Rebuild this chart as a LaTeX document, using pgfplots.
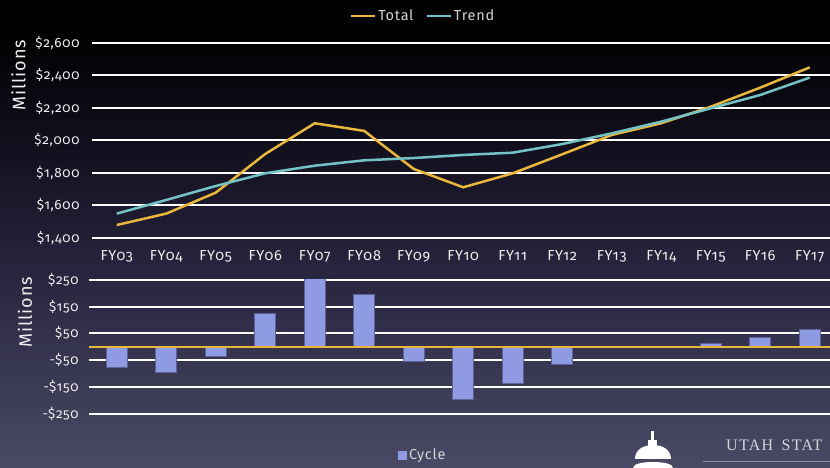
\documentclass[border=0pt]{standalone}
\usepackage{pgfplots}
\pgfplotsset{compat=1.18}
\usepackage{fontspec}
\setmainfont{Fira Sans}[Numbers=OldStyle]
\newfontfamily\cf{Fira Sans}[Numbers=OldStyle, LetterSpace=5]
\newfontfamily\logofont{Liberation Serif}[LetterSpace=8, WordSpace=1.6]

\definecolor{totalcol}{HTML}{E8B73C}
\definecolor{trendcol}{HTML}{75C2C6}
\definecolor{barfill}{HTML}{8E9BE3}
\definecolor{baredge}{HTML}{5B6199}
\definecolor{labelcol}{HTML}{EEEEEE}
\definecolor{legcol}{HTML}{D4D4D8}
\definecolor{bgbot}{HTML}{4A4A66}
\definecolor{bglow}{HTML}{26233C}
\definecolor{bgmid}{HTML}{110F1C}
\definecolor{logoline}{HTML}{8E8EA5}

\pgfdeclareverticalshading{bgshade}{100bp}{color(0bp)=(bgbot); color(25bp)=(bgbot); color(47bp)=(bglow); color(60bp)=(bgmid); color(72bp)=(black); color(100bp)=(black)}

\begin{document}
\begin{tikzpicture}[x=1pt,y=1pt]
\shade[shading=bgshade] (0,0) rectangle (830,468);

% top: total vs trend
\begin{axis}[
    at={(92pt,230pt)}, anchor=south west,
    scale only axis, width=738pt, height=195pt,
    xmin=-0.5, xmax=14.41, ymin=1400, ymax=2600,
    axis line style={draw=none}, major tick length=0pt,
    ytick={1400,1600,1800,2000,2200,2400,2600},
    yticklabels={{\$1,400},{\$1,600},{\$1,800},{\$2,000},{\$2,200},{\$2,400},{\$2,600}},
    xtick={0,...,14},
    xticklabels={FY03,FY04,FY05,FY06,FY07,FY08,FY09,FY10,FY11,FY12,FY13,FY14,FY15,FY16,FY17},
    ymajorgrids, grid style={white, line width=2pt},
    yticklabel style={text=labelcol, font=\cf\fontsize{13.5}{15}\selectfont, xshift=-9pt},
    xticklabel style={text=labelcol, font=\cf\fontsize{14.5}{16}\selectfont, anchor=base, yshift=-23pt},
    legend style={at={(0.4485,1.138)}, anchor=center, draw=none, fill=none,
        legend columns=2, text=legcol, font=\cf\fontsize{14.5}{16}\selectfont,
        /tikz/every even column/.append style={column sep=10pt}},
    legend image code/.code={\draw[#1] (0pt,0pt) -- (24pt,0pt);},
]
\addplot[totalcol, line width=2.5pt] coordinates {
    (0,1480) (1,1550) (2,1679) (3,1917) (4,2106) (5,2059) (6,1825) (7,1712)
    (8,1798) (9,1915) (10,2034) (11,2106) (12,2208) (13,2325) (14,2450)};
\addplot[trendcol, line width=2.5pt] coordinates {
    (0,1550) (1,1634) (2,1720) (3,1798) (4,1845) (5,1878) (6,1892) (7,1911)
    (8,1925) (9,1978) (10,2044) (11,2116) (12,2198) (13,2280) (14,2387)};
\legend{Total, Trend}
\end{axis}

% bottom: cycle
\begin{axis}[
    at={(89pt,54.3pt)}, anchor=south west,
    scale only axis, width=741pt, height=133.7pt,
    xmin=-0.56, xmax=14.41, ymin=-250, ymax=250,
    axis line style={draw=none}, major tick length=0pt,
    xtick=\empty,
    ytick={-250,-150,-50,50,150,250},
    yticklabels={{-\$250},{-\$150},{-\$50},{\$50},{\$150},{\$250}},
    ymajorgrids, grid style={white, line width=2pt},
    yticklabel style={text=labelcol, font=\cf\fontsize{13.5}{15}\selectfont, xshift=-7pt},
    legend style={at={(0.4507,-0.309)}, anchor=center, draw=none, fill=none,
        text=legcol, font=\cf\fontsize{14.5}{16}\selectfont},
]
\addplot[ybar, bar width=21pt, fill=barfill, draw=baredge, line width=0.6pt,
    legend image code/.code={\fill[barfill] (0pt,-4pt) rectangle (8pt,4pt);}]
    coordinates {
    (0,-75) (1,-95) (2,-35) (3,125) (4,255) (5,195) (6,-54) (7,-195)
    (8,-135) (9,-64) (10,-3) (11,-3) (12,13) (13,35) (14,65)};
\addplot[totalcol, line width=2.5pt, forget plot] coordinates {(-0.56,0) (14.41,0)};
\legend{Cycle}
\end{axis}

\node[rotate=90, text=labelcol, font=\cf\fontsize{18}{20}\selectfont] at (18.5,393) {Millions};
\node[rotate=90, text=labelcol, font=\cf\fontsize{18}{20}\selectfont] at (25,156) {Millions};

% logo
\fill[white] (651.3,26) rectangle (653.7,37);
\fill[white] (648,20) rectangle (657,28);
\fill[white] (635,9) .. controls (635,18) and (643,23) .. (653,23)
    .. controls (663,23) and (671,18) .. (671,9) -- cycle;
\fill[white] (633,0) .. controls (633,4) and (642,6) .. (653,6)
    .. controls (664,6) and (673,4) .. (673,0) -- cycle;
\node[anchor=base west, inner sep=0pt, text=legcol, font=\logofont\fontsize{16}{18}\selectfont] at (726,17) {UTAH STAT};
\draw[logoline, line width=1pt] (703,6.3) -- (830,6.3);

\pgfresetboundingbox
\useasboundingbox (0,0) rectangle (830,468);
\end{tikzpicture}
\end{document}
